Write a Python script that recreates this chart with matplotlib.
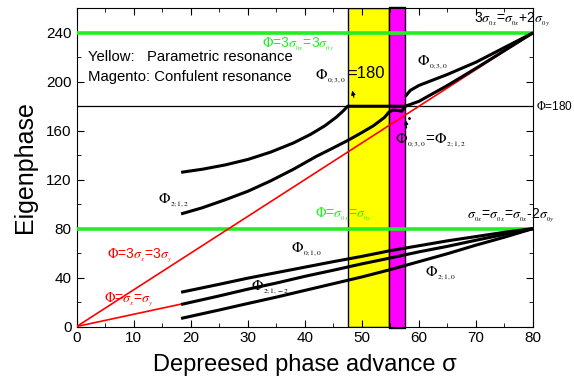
import matplotlib
matplotlib.use("Agg")
import matplotlib.pyplot as plt
from matplotlib.ticker import MultipleLocator

plt.rcParams['font.family'] = ['Liberation Sans', 'DejaVu Sans']
plt.rcParams['mathtext.fontset'] = 'stix'

# resonance bands (sigma)
yellow_band = [47.5, 54.7]
magenta_band = [54.7, 57.6]

# lower eigenphase branches
sig_lo = [18.3, 25, 30, 35, 40, 45, 50, 55, 60, 65, 70, 75, 80]
phi_010 = [28, 34.5, 39.5, 44, 48.5, 53, 57.3, 62, 66, 70, 73.5, 77, 80]
phi_21m2 = [18, 25, 30.5, 35.5, 41, 46, 51.2, 56, 61, 65.5, 70.5, 75.3, 80]
phi_210 = [6.6, 13.5, 18.8, 24, 29.5, 35, 40.5, 46.5, 53, 59.5, 66.5, 73, 80]

# upper branches before the confluent band
sig_up1 = [18.3, 22, 26, 30, 34, 38, 41, 43.5, 45.5, 46.8, 47.5, 50, 54.7, 57.6]
phi_030 = [126, 128.5, 132, 136.5, 142.5, 150, 157, 164, 171, 176.5, 180, 180, 180, 180]
sig_up2 = [18.3, 22, 26, 30, 34, 38, 42, 45, 47.5, 50, 52, 54, 54.7, 55.5, 57, 57.6]
phi_212 = [92, 97, 103.5, 110.5, 119, 128.5, 139, 146, 152, 158.5, 164, 171, 175, 177, 176, 180]

# upper branches after the confluent band
sig_up3 = [57.6, 58.5, 60, 65, 70, 75, 80]
phi_030b = [188, 193, 197, 206, 216, 228, 240]
sig_up4 = [57.6, 60, 65, 70, 75, 80]
phi_212b = [180, 184, 197, 211, 225.5, 240]

# reference lines
sig_line = [0, 80]
phi_3s = [0, 240]
sig_short = [0, 18.3]
phi_1s = [0, 18.3]

fig = plt.figure(figsize=(5.74, 3.88), dpi=100)
ax = fig.add_axes([0.1336, 0.1585, 0.795, 0.82])

ax.axvspan(yellow_band[0], yellow_band[1], ymin=0, ymax=1, facecolor='#ffff00',
           edgecolor='black', linewidth=1.0, zorder=1)
ax.fill_between(magenta_band, [-1.5, -1.5], [261, 261], facecolor='#ff00ff',
                edgecolor='black', linewidth=1.0, zorder=1, clip_on=False)

ax.plot(sig_line, [240, 240], color='#22ee22', lw=2.6, zorder=3)
ax.plot(sig_line, [80, 80], color='#22ee22', lw=2.6, zorder=3)
ax.plot(sig_line, [180, 180], color='black', lw=0.9, zorder=3)

ax.plot(sig_line, phi_3s, color='red', lw=1.2, zorder=4)
ax.plot(sig_short, phi_1s, color='red', lw=1.2, zorder=4)

for s, p in [(sig_lo, phi_010), (sig_lo, phi_21m2), (sig_lo, phi_210),
             (sig_up1, phi_030), (sig_up2, phi_212),
             (sig_up3, phi_030b), (sig_up4, phi_212b)]:
    ax.plot(s, p, color='black', lw=2.2, solid_capstyle='butt', solid_joinstyle='round', zorder=5)

ax.set_xlim(0, 80)
ax.set_ylim(0, 260)
ax.xaxis.set_major_locator(MultipleLocator(10))
ax.xaxis.set_minor_locator(MultipleLocator(5))
ax.yaxis.set_major_locator(MultipleLocator(40))
ax.yaxis.set_minor_locator(MultipleLocator(20))
ax.tick_params(which='both', direction='in', top=True, right=True, labelsize=11)
ax.tick_params(which='major', length=5)
ax.tick_params(which='minor', length=3)

ax.set_xlabel('Depreesed phase advance σ', fontsize=17, labelpad=6)
ax.set_ylabel('Eigenphase', fontsize=18, labelpad=7)

# legend-like notes
ax.text(2.0, 220.5, 'Yellow:   Parametric resonance', fontsize=10.7, va='center', zorder=6)
ax.text(2.0, 204, 'Magento: Confulent resonance', fontsize=10.7, va='center', zorder=6)

serif = dict(zorder=6, va='center')
ax.text(32.5, 230.5, r'$\Phi$=3$\sigma_{_{0x}}$=3$\sigma_{_{0y}}$', color='#22ee22', fontsize=10, **serif)
ax.text(41.8, 205, r'$\Phi_{_{0;3,0}}$', fontsize=11, **serif)
ax.text(47.4, 207, '=180', fontsize=12, va='center', zorder=6)
ax.text(80.5, 179.5, r'$\Phi$=180', fontsize=8.5, clip_on=False, **serif)
ax.text(69.7, 251, r'3$\sigma_{_{0x}}$=$\sigma_{_{0x}}$+2$\sigma_{_{0y}}$', fontsize=10,
        clip_on=False, **serif)
ax.text(59.7, 216, r'$\Phi_{_{0;3,0}}$', fontsize=11, **serif)
ax.text(55.8, 152, r'$\Phi_{_{0;3,0}}$=$\Phi_{_{2;1,2}}$', fontsize=11, **serif)
ax.text(14.2, 103.5, r'$\Phi_{_{2;1,2}}$', fontsize=11, **serif)
ax.text(41.8, 92, r'$\Phi$=$\sigma_{_{0x}}$=$\sigma_{_{0y}}$', color='#22ee22', fontsize=10, **serif)
ax.text(68.4, 91, r'$\sigma_{_{0x}}$=$\sigma_{_{0x}}$=$\sigma_{_{0x}}$-2$\sigma_{_{0y}}$', fontsize=10,
        clip_on=False, **serif)
ax.text(5.3, 58.5, r'$\Phi$=3$\sigma_{_x}$=3$\sigma_{_y}$', color='red', fontsize=10, **serif)
ax.text(4.8, 22, r'$\Phi$=$\sigma_{_x}$=$\sigma_{_y}$', color='red', fontsize=10, **serif)
ax.text(37.5, 63, r'$\Phi_{_{0;1,0}}$', fontsize=11, **serif)
ax.text(30.6, 32, r'$\Phi_{_{2;1,-2}}$', fontsize=11, **serif)
ax.text(61.1, 44, r'$\Phi_{_{2;1,0}}$', fontsize=11, **serif)

# small pointer arrows
ax.annotate('', xy=(48.2, 195), xytext=(48.7, 185),
            arrowprops=dict(arrowstyle='-|>', color='black', lw=0.8, mutation_scale=6), zorder=6)
ax.annotate('', xy=(57.6, 171), xytext=(57.9, 160),
            arrowprops=dict(arrowstyle='-|>', color='black', lw=0.8, mutation_scale=6), zorder=6)
ax.plot([58.3], [170.5], marker='.', color='black', ms=2, zorder=6)

fig.savefig('out.png', dpi=100)
